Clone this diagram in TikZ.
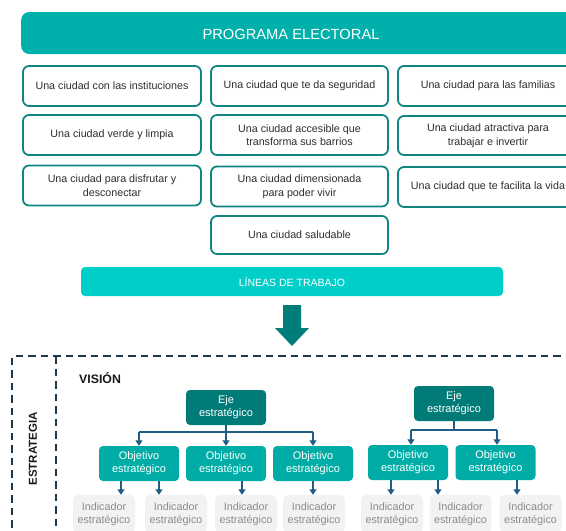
\documentclass[tikz,border=0pt]{standalone}
\usepackage{fontspec}
\setmainfont{Liberation Sans}
\usetikzlibrary{arrows.meta}
\definecolor{titlecol}{HTML}{00B0AA}
\definecolor{linescol}{HTML}{00CFC9}
\definecolor{boxcol}{HTML}{0F8480}
\definecolor{textcol}{HTML}{2E2E2E}
\definecolor{ejecol}{HTML}{007B78}
\definecolor{objcol}{HTML}{00ADA6}
\definecolor{indfill}{HTML}{F2F2F2}
\definecolor{indtext}{HTML}{8C8C8C}
\definecolor{conncol}{HTML}{1F5D85}
\definecolor{bigarrcol}{HTML}{007D7A}
\definecolor{framecol}{HTML}{1C3A4C}
\begin{document}
\begin{tikzpicture}[x=1pt,y=-1pt,
  cbox/.style={draw=boxcol, line width=1.8pt, rounded corners=6pt, fill=white,
    minimum height=40pt, text=textcol, align=center,
    font=\fontsize{10.7}{13.5}\selectfont, inner sep=0pt},
  colA/.style={cbox, minimum width=178pt},
  colB/.style={cbox, minimum width=177pt},
  colC/.style={cbox, minimum width=180pt},
  ejebox/.style={fill=ejecol, rounded corners=4pt, minimum width=80pt,
    minimum height=35pt, text=white, align=center,
    font=\fontsize{11}{12.8}\selectfont, inner sep=0pt},
  objbox/.style={ejebox, fill=objcol},
  indbox/.style={fill=indfill, rounded corners=5pt, minimum width=62pt,
    minimum height=38pt, text=indtext, align=center,
    font=\fontsize{10.8}{13}\selectfont, inner sep=0pt},
  conn/.style={draw=conncol, line width=1.8pt},
  arr/.style={conn, -{Triangle[width=7pt,length=5.5pt]}},
  frame/.style={draw=framecol, line width=1.8pt, dash pattern=on 7.5pt off 5pt}
]
\useasboundingbox (0,0) rectangle (566,531);
\clip (0,0) rectangle (566,531);

% title
\node[fill=titlecol, rounded corners=8pt, minimum width=590pt, minimum height=42pt,
  anchor=west, inner sep=0pt] (titlebox) at (21,33) {};
\node[text=white, font=\fontsize{14.7}{17}\selectfont, inner sep=0pt] (titletext)
  at (291,34) {PROGRAMA ELECTORAL};

% boxes
\node[colA] (a1) at (112,86) {Una ciudad con las instituciones};
\node[colA] (a2) at (112,135) {Una ciudad verde y limpia};
\node[colA] (a3) at (112,185.5) {Una ciudad para disfrutar y\\desconectar};
\node[colB] (b1) at (299.5,86) {Una ciudad que te da seguridad};
\node[colB] (b2) at (299.5,135) {Una ciudad accesible que\\transforma sus barrios};
\node[colB] (b3) at (299.5,186.5) {Una ciudad dimensionada\\para poder vivir};
\node[colB, minimum height=38pt] (b4) at (299.5,235) {Una ciudad saludable};
\node[colC] (c1) at (488,86) {Una ciudad para las familias};
\node[colC, minimum height=39pt] (c2) at (488,135.5) {Una ciudad atractiva para\\trabajar e invertir};
\node[colC] (c3) at (488,187) {Una ciudad que te facilita la vida};

% lineas
\node[fill=linescol, rounded corners=4pt, minimum width=422pt, minimum height=29pt,
  text=white, font=\fontsize{10.5}{12}\selectfont, inner sep=0pt] (lineas)
  at (292,281.5) {LÍNEAS DE TRABAJO};

% big arrow
\fill[bigarrcol] (283,305) -- (301,305) -- (301,328) -- (309,328) -- (292,346)
  -- (275,328) -- (283,328) -- cycle;

% frame
\draw[frame] (12,540) -- (12,356) -- (575,356);
\draw[frame] (56,356) -- (56,540);

\node[rotate=90, font=\bfseries\fontsize{11.5}{13}\selectfont, text=black!90, inner sep=0pt]
  (estr) at (33,449) {ESTRATEGIA};
\node[anchor=west, font=\bfseries\fontsize{12.3}{14}\selectfont, text=black!90, inner sep=0pt]
  (vision) at (79,378) {VISIÓN};

% ejes
\node[ejebox] (e1) at (226,407.5) {Eje\\estratégico};
\node[ejebox] (e2) at (454,403.5) {Eje\\estratégico};

% objetivos
\node[objbox] (o1) at (139,463.5) {Objetivo\\estratégico};
\node[objbox] (o2) at (226,463.5) {Objetivo\\estratégico};
\node[objbox] (o3) at (313,463.5) {Objetivo\\estratégico};
\node[objbox] (o4) at (408,462.5) {Objetivo\\estratégico};
\node[objbox] (o5) at (495.5,462.5) {Objetivo\\estratégico};

% indicadores
\node[indbox] (i1) at (104,514) {Indicador\\estratégico};
\node[indbox] (i2) at (176,514) {Indicador\\estratégico};
\node[indbox] (i3) at (246,514) {Indicador\\estratégico};
\node[indbox] (i4) at (314,514) {Indicador\\estratégico};
\node[indbox] (i5) at (392,514) {Indicador\\estratégico};
\node[indbox] (i6) at (460.5,514) {Indicador\\estratégico};
\node[indbox] (i7) at (530.5,514) {Indicador\\estratégico};

% connectors eje 1
\draw[conn] (e1.south) -- ++(0,7) coordinate (j1);
\draw[conn] (o1.north |- j1) -- (o3.north |- j1);
\draw[arr] (o1.north |- j1) -- (o1.north);
\draw[arr] (j1) -- (o2.north);
\draw[arr] (o3.north |- j1) -- (o3.north);

% connectors eje 2
\draw[conn] (e2.south) -- ++(0,9) coordinate (j2);
\draw[conn] ([xshift=3pt]o4.north |- j2) -- ([xshift=1.5pt]o5.north |- j2);
\draw[arr] ([xshift=3pt]o4.north |- j2) -- ([xshift=3pt]o4.north);
\draw[arr] ([xshift=1.5pt]o5.north |- j2) -- ([xshift=1.5pt]o5.north);

% objetivo -> indicador
\draw[arr] ([xshift=-18pt]o1.south) -- ([xshift=-18pt]o1.south |- i1.north);
\draw[arr] ([xshift=20pt]o1.south) -- ([xshift=20pt]o1.south |- i2.north);
\draw[arr] ([xshift=16pt]o2.south) -- ([xshift=16pt]o2.south |- i3.north);
\draw[arr] (o3.south) -- (o3.south |- i4.north);
\draw[arr] ([xshift=-17pt]o4.south) -- ([xshift=-17pt]o4.south |- i5.north);
\draw[arr] ([xshift=30pt]o4.south) -- ([xshift=30pt]o4.south |- i6.north);
\draw[arr] ([xshift=21.5pt]o5.south) -- ([xshift=21.5pt]o5.south |- i7.north);
\end{tikzpicture}
\end{document}
